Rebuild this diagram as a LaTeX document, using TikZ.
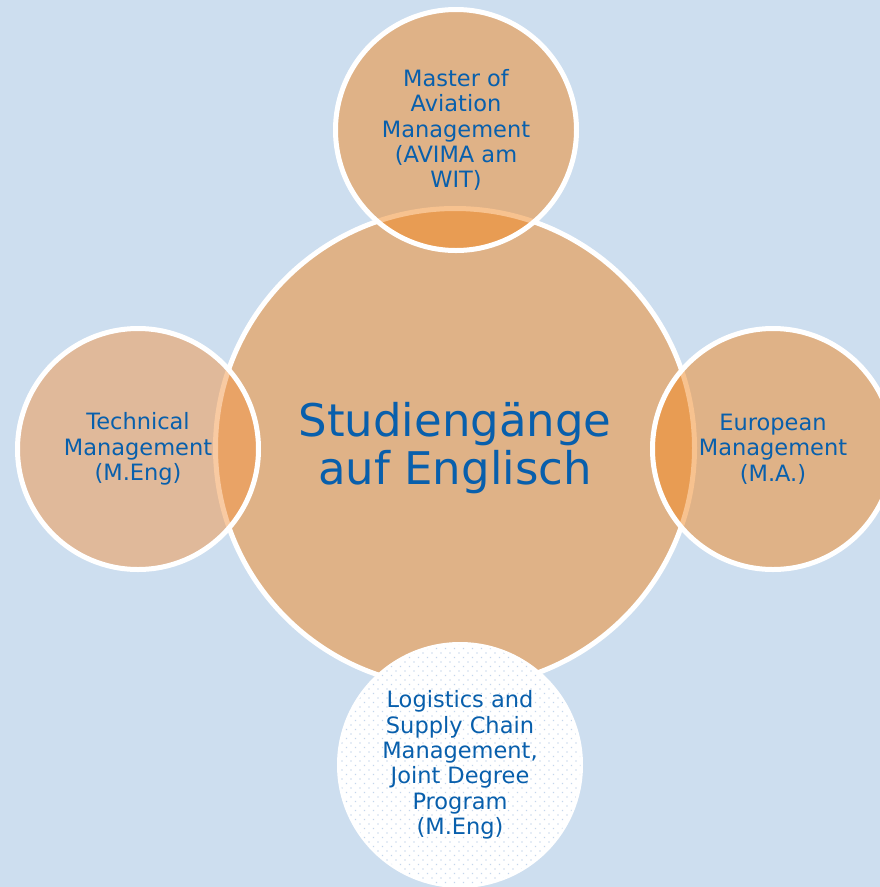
\documentclass[tikz,border=0pt]{standalone}
\usepackage{fontspec}
\setmainfont{DejaVu Sans}
\usetikzlibrary{patterns}
\definecolor{bgblue}{RGB}{205,222,239}
\definecolor{orangeA}{RGB}{241,135,32}
\definecolor{orangeL}{RGB}{243,150,70}
\definecolor{txtblue}{RGB}{8,95,172}
\definecolor{dotblue}{RGB}{196,214,236}
\pgfdeclarepatternformonly{mydots}{\pgfqpoint{-1.5pt}{-1.5pt}}{\pgfqpoint{10.5pt}{10.5pt}}{\pgfqpoint{9pt}{9pt}}{%
  \pgfpathrectangle{\pgfqpoint{-0.7pt}{-0.7pt}}{\pgfqpoint{1.4pt}{1.4pt}}%
  \pgfpathrectangle{\pgfqpoint{3.8pt}{3.8pt}}{\pgfqpoint{1.4pt}{1.4pt}}%
  \pgfusepath{fill}}
\tikzset{
  maincirc/.style={circle, inner sep=0pt, minimum size=479pt, draw=white, line width=5pt,
    fill=orangeA, fill opacity=0.5, draw opacity=1, text opacity=1, text=txtblue, align=center,
    font=\fontsize{45}{48}\selectfont},
  satcirc/.style={circle, inner sep=0pt, minimum size=241pt, draw=white, line width=5pt,
    fill=#1, fill opacity=0.5, draw opacity=1, text opacity=1, text=txtblue, align=center,
    font=\fontsize{22.5}{25.3}\selectfont},
  dotcirc/.style={circle, inner sep=0pt, minimum size=241pt, draw=white, line width=5pt,
    fill=white, postaction={pattern=mydots, pattern color=dotblue}, text=txtblue, align=center,
    font=\fontsize{22.5}{25.3}\selectfont}
}
\begin{document}
\begin{tikzpicture}[x=1pt,y=-1pt]
\useasboundingbox (0,0) rectangle (880,887);
\clip (0,0) rectangle (880,887);
\fill[bgblue] (0,0) rectangle (880,887);
\node[maincirc] (main) at (455,448) {Studiengänge\\auf Englisch};
\node[satcirc=orangeA] (top) at (456,130) {Master of\\Aviation\\Management\\(AVIMA am\\WIT)};
\node[satcirc=orangeL] (left) at (138,449) {Technical\\Management\\(M.Eng)};
\node[satcirc=orangeA] (right) at (773,449) {European\\Management\\(M.A.)};
\node[dotcirc] (bottom) at (460,765) {Logistics and\\Supply Chain\\Management,\\Joint Degree\\Program\\(M.Eng)};
\end{tikzpicture}
\end{document}
